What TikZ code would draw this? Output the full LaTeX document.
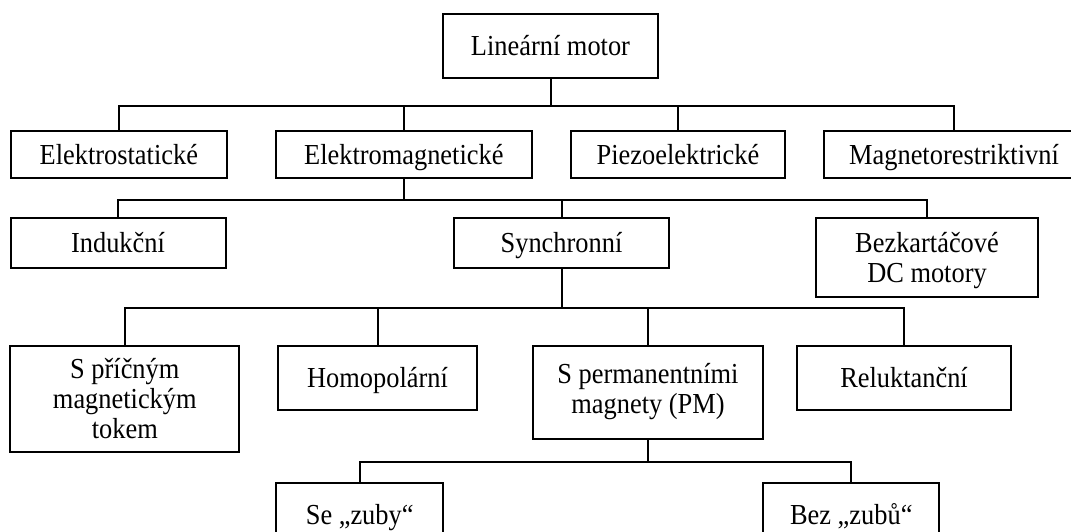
\documentclass[tikz,border=0pt]{standalone}
\usepackage{fontspec}
\setmainfont{Liberation Serif}[FakeStretch=0.91]

\begin{document}
\begin{tikzpicture}[x=1pt,y=-1pt,box/.style={draw, line width=2pt, align=center, inner sep=0pt, font=\fontsize{29}{30}\selectfont, text height=19.2pt, text depth=0pt},link/.style={line width=2pt}]
\useasboundingbox (0,0) rectangle (1071,532);
\clip (0,0) rectangle (1071,532);
\node[box,minimum width=215,minimum height=64] (root) at (550.5,46) {Lineární motor};
\node[box,minimum width=215.5,minimum height=47] (elstat) at (118.8,154.5) {Elektrostatické};
\node[box,minimum width=256.5,minimum height=47] (elmag) at (403.8,154.5) {Elektromagnetické};
\node[box,minimum width=214.6,minimum height=47] (piezo) at (678,154.5) {Piezoelektrické};
\node[box,minimum width=260,minimum height=47] (magnet) at (954,154.5) {Magnetorestriktivní};
\node[box,minimum width=215,minimum height=50] (induk) at (118,243.3) {Indukční};
\node[box,minimum width=215,minimum height=50] (sync) at (561.5,243.3) {Synchronní};
\node[box,minimum width=222.6,minimum height=78.4,text height=49.2pt] (bldc) at (927,257.5) {Bezkartáčové\\DC motory};
\node[box,minimum width=229,minimum height=105.7,text height=79.2pt] (transv) at (124.8,398.9) {S příčným\\magnetickým\\tokem};
\node[box,minimum width=199,minimum height=64] (homo) at (377.5,378) {Homopolární};
\node[box,minimum width=230.6,minimum height=93.3,text height=49.2pt,text depth=8pt] (perm) at (648,392.7) {S permanentními\\magnety (PM)};
\node[box,minimum width=214.7,minimum height=64] (reluk) at (904,378) {Reluktanční};
\node[box,minimum width=167.3,minimum height=64] (zuby) at (359.7,515) {Se „zuby“};
\node[box,minimum width=176,minimum height=64] (bezz) at (851.3,515) {Bez „zubů“};
% vetveni stromu
\foreach \c in {elstat,elmag,piezo,magnet} \draw[link] (root.south) -- ++(0,27) -| (\c.north);
\foreach \c in {induk,sync,bldc} \draw[link] (elmag.south) -- ++(0,20.5) -| (\c.north);
\foreach \c in {transv,homo,perm,reluk} \draw[link] (sync.south) -- ++(0,38.4) -| (\c.north);
\foreach \c in {zuby,bezz} \draw[link] (perm.south) -- ++(0,21.7) -| (\c.north);
\end{tikzpicture}
\end{document}
